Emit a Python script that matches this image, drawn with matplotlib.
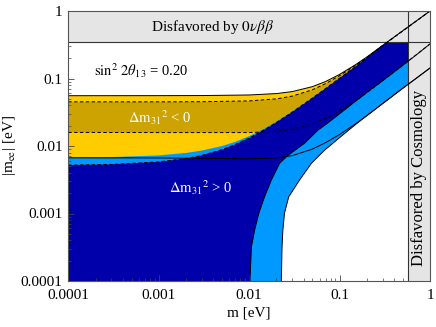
import matplotlib
matplotlib.use('Agg')
import matplotlib.pyplot as plt

plt.rcParams['font.family'] = ['Liberation Serif', 'DejaVu Serif']
plt.rcParams['mathtext.fontset'] = 'stix'

# inverted hierarchy (dm31^2 < 0)
m_ih = [1e-4, 1e-3, 3e-3, 0.01, 0.02, 0.03, 0.05, 0.07, 0.1, 0.15, 0.2, 0.3, 0.5, 1.0]
ih_3s_up = [0.0556, 0.0557, 0.0559, 0.0570, 0.0598, 0.0640, 0.0757, 0.0902, 0.115, 0.160, 0.208, 0.310, 0.510, 1.0]
ih_3s_lo = [0.00669, 0.00665, 0.00656, 0.00645, 0.00665, 0.0072, 0.0090, 0.0112, 0.0148, 0.0213, 0.0281, 0.0426, 0.0716, 0.143]
ih_bf_up = [0.0451, 0.0451, 0.0453, 0.0466, 0.0499, 0.0549, 0.0680, 0.0839, 0.110, 0.157, 0.205, 0.305, 0.505, 1.0]
ih_bf_lo = [0.0159, 0.0158, 0.0158, 0.0158, 0.0165, 0.0178, 0.0212, 0.0256, 0.0330, 0.0465, 0.0615, 0.093, 0.157, 0.325]

# normal hierarchy (dm31^2 > 0)
m_nh = [1e-4, 3e-4, 1e-3, 2e-3, 3e-3, 5e-3, 7e-3, 0.01, 0.015, 0.02, 0.03, 0.05, 0.07, 0.1, 0.15, 0.2, 0.3, 0.5, 0.7, 1.0]
nh_bf_up = [0.00521, 0.00534, 0.00582, 0.00652, 0.00726, 0.00882, 0.0105, 0.0131, 0.0176, 0.0223, 0.0318, 0.0513, 0.0710, 0.101, 0.150, 0.202, 0.310, 0.510, 0.705, 1.0]
nh_3s_up = [0.00673, 0.00685, 0.00726, 0.00789, 0.00856, 0.00999, 0.0115, 0.0140, 0.0184, 0.0230, 0.0324, 0.0517, 0.0713, 0.101, 0.151, 0.203, 0.311, 0.511, 0.706, 1.0]

m_nh_bf_lo = [0.0102, 0.0106, 0.0115, 0.0128, 0.0148, 0.0176, 0.0217, 0.027, 0.041, 0.058, 0.07, 0.1, 0.15, 0.2, 0.3, 0.5, 0.7, 1.0]
nh_bf_lo = [1e-4, 0.00032, 0.00057, 0.00101, 0.00177, 0.00313, 0.00554, 0.0073, 0.0110, 0.0173, 0.0207, 0.030, 0.046, 0.062, 0.093, 0.157, 0.222, 0.325]

m_nh_3s_lo = [0.0227, 0.0231, 0.0236, 0.0246, 0.0274, 0.0361, 0.0488, 0.0685, 0.1, 0.15, 0.2, 0.3, 0.5, 0.7, 1.0]
nh_3s_lo = [1e-4, 0.00032, 0.00057, 0.00101, 0.00177, 0.00313, 0.00554, 0.0087, 0.0133, 0.0208, 0.0281, 0.0426, 0.0716, 0.100, 0.143]

bb_limit = 0.35     # 0vbb bound on |m_ee|
cosmo_limit = 0.57  # cosmology bound on m

xticks = [1e-4, 1e-3, 1e-2, 1e-1, 1]
tick_labels = ['0.0001', '0.001', '0.01', '0.1', '1']

yellow = '#ffcc00'
gold = '#cca300'
lightblue = '#0099ff'
darkblue = '#0000aa'

fig = plt.figure(figsize=(4.36, 3.27), dpi=100)
ax = fig.add_axes([68.3 / 436, 1 - 281 / 327, 361.7 / 436, 270 / 327])
ax.set_xscale('log')
ax.set_yscale('log')
ax.set_xlim(1e-4, 1)
ax.set_ylim(1e-4, 1)

# filled regions
ax.fill(m_ih + m_ih[::-1], ih_3s_up + ih_3s_lo[::-1], color=yellow, lw=0, zorder=1)
ax.fill(m_ih + m_ih[::-1], ih_bf_up + ih_bf_lo[::-1], color=gold, lw=0, zorder=1.1)
ax.fill(m_nh + m_nh_3s_lo[::-1] + [1e-4], nh_3s_up + nh_3s_lo[::-1] + [1e-4],
        color=lightblue, lw=0, zorder=1.2)
ax.fill(m_nh + m_nh_bf_lo[::-1] + [1e-4], nh_bf_up + nh_bf_lo[::-1] + [1e-4],
        color=darkblue, lw=0, zorder=1.3)

# excluded bands
ax.axhspan(bb_limit, 1, color='#e5e5e5', lw=0, zorder=3)
ax.axvspan(cosmo_limit, 1, color='#e5e5e5', lw=0, zorder=3)
ax.axhline(bb_limit, color='#333333', lw=0.8, zorder=4)
ax.axvline(cosmo_limit, color='#333333', lw=0.8, zorder=4)

# boundary curves
lw = 0.7
dash = (0, (3.5, 2.5))
ax.plot(m_ih, ih_3s_up, color='k', lw=lw, zorder=5)
ax.plot(m_ih, ih_3s_lo, color='k', lw=lw, zorder=5)
ax.plot(m_ih, ih_bf_up, color='k', lw=lw, ls=dash, zorder=5)
ax.plot(m_ih, ih_bf_lo, color='k', lw=lw, ls=dash, zorder=5)
ax.plot(m_nh, nh_bf_up, color='k', lw=lw, ls=dash, zorder=5)
ax.plot(m_nh_bf_lo, nh_bf_lo, color='k', lw=lw, zorder=5)
ax.plot(m_nh_3s_lo, nh_3s_lo, color='k', lw=lw, zorder=5)

# labels
ax.text(0.40, 0.941, r'Disfavored by $0\nu\beta\beta$', transform=ax.transAxes,
        ha='center', va='center', fontsize=11, zorder=6)
ax.text(0.97, 0.38, 'Disfavored by Cosmology', transform=ax.transAxes,
        ha='center', va='center', rotation=90, fontsize=12, zorder=6)
ax.text(0.201, 0.778, r'$\mathrm{sin}^2\ 2\theta_{13}$ = 0.20', transform=ax.transAxes,
        ha='center', va='center', fontsize=10.5, zorder=6)
ax.text(0.252, 0.604, r'$\Delta\mathrm{m}_{31}{}^{2}$ < 0', transform=ax.transAxes,
        ha='center', va='center', fontsize=10.5, color='white', zorder=6)
ax.text(0.367, 0.344, r'$\Delta\mathrm{m}_{31}{}^{2}$ > 0', transform=ax.transAxes,
        ha='center', va='center', fontsize=10.5, color='white', zorder=6)

ax.set_xticks(xticks)
ax.set_xticklabels(tick_labels)
ax.set_yticks(xticks)
ax.set_yticklabels(tick_labels)
ax.tick_params(which='both', direction='in', top=True, right=True,
               labelsize=11, color='#444444')
ax.tick_params(axis='x', which='major', pad=6)
ax.tick_params(axis='y', which='major', pad=4)
ax.tick_params(which='major', length=4, width=0.6)
ax.tick_params(which='minor', length=2, width=0.5)
for s in ax.spines.values():
    s.set_color('#555555')
    s.set_linewidth(0.8)
    s.set_zorder(7)

ax.set_xlabel('m [eV]', fontsize=11, labelpad=3)
ax.set_ylabel(r'|m$_{\mathrm{ee}}$| [eV]', fontsize=11, labelpad=2)

fig.savefig('out.png', dpi=100)
